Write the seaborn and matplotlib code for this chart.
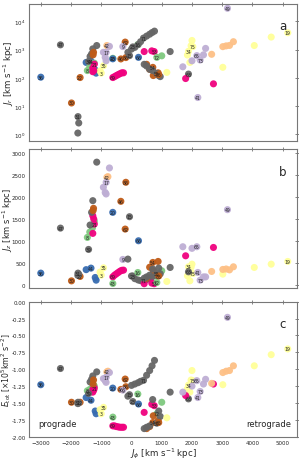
import pandas as pd
import seaborn as sns
import matplotlib.pyplot as plt

# One entry per orbit point. The label is the cluster ID printed on that point ("" = no label).
label = ["36", "47", "30", "22", "31", "", "",
         "44", "", "", "",
         "35", "3", "",
         "8", "", "", "",
         "21", "", "", "",
         "39", "", "", "", "",
         "", "",
         "42", "",
         "17", "", "", "", "",
         "69", "", "", "", "", "", "",
         "43", "20", "46", "62", "86", "9", "15", "", "23", "16", "66",
         "71", "", "", "", "", "", "", "", "",
         "53", "", "",
         "72", "",
         "54", "", "", "", "",
         "55", "", "", "", "", "", "",
         "85", "", "",
         "34", "", "", "", "",
         "75", "63", "", "", "",
         "65", "", "",
         "73", "",
         "41", "49",
         "19", "", "", "",
         "", "", "", "", ""]
colour = ["blue", "grey", "brown", "brown", "grey", "grey", "grey",
          "blue", "blue", "blue", "blue",
          "yellow", "yellow", "yellow",
          "green", "green", "green", "green",
          "pink", "pink", "pink", "pink",
          "grey", "grey", "grey", "grey", "grey",
          "brown", "brown",
          "peach", "peach",
          "lavender", "lavender", "lavender", "lavender", "lavender",
          "pink", "pink", "pink", "pink", "pink", "pink", "pink",
          "green", "blue", "brown", "brown", "brown", "lavender", "grey", "grey", "grey", "green", "blue",
          "grey", "grey", "grey", "grey", "grey", "grey", "grey", "grey", "grey",
          "pink", "pink", "pink",
          "green", "green",
          "brown", "brown", "brown", "brown", "brown",
          "grey", "grey", "grey", "grey", "grey", "grey", "grey",
          "brown", "grey", "yellow",
          "yellow", "yellow", "yellow", "yellow", "yellow",
          "yellow", "grey", "pink", "pink", "lavender",
          "lavender", "lavender", "lavender",
          "lavender", "lavender",
          "lavender", "lavender",
          "yellow", "yellow", "yellow", "yellow",
          "peach", "peach", "peach", "peach", "peach"]
jphi = [-3000, -2350, -1985, -1700, -1770, -1745, -1775,
        -1340, -1500, -1200, -1170,
        -925, -1000, -1040,
        -1460, -1380, -1290, -1230,
        -1230, -1280, -1280, -1250,
        -1420, -1150, -1280, -1320, -1370,
        -1256, -1270,
        -815, -780,
        -838, -930, -870, -840, -730,
        -617, -560, -500, -440, -380, -320, -264,
        -617, -620, -353, -209, -187, -287, -66, -120, 44, 209, 231,
        397, 0, 110, 220, 300, 500, 600, 680, 760,
        750, 670, 419,
        837, 1000,
        705, 880, 720, 600, 500,
        837, 420, 500, 600, 950, 900, 700,
        900, 1278, 1168,
        1884, 2000, 1970, 1850, 1930,
        2028, 1884, 1790, 2710, 1697,
        2160, 2000, 2450,
        2270, 2380,
        2193, 3174,
        5168, 4620, 4060, 3020,
        2650, 3020, 3130, 3240, 3370]
jr = [105, 1470, 12.8, 102, 4.2, 2.5, 1.1,
      390, 350, 188, 146,
      268, 146, 175,
      180, 250, 260, 330,
      305, 164, 220, 180,
      380, 1390, 1060, 700, 570,
      800, 650,
      1390, 1300,
      800, 800, 530, 400, 1300,
      102, 110, 120, 130, 140, 150, 150,
      490, 470, 465, 1840, 520, 1280, 610, 800, 1240, 1500, 530,
      2550, 1040, 1200, 1500, 1900, 3000, 3500, 4000, 4500,
      850, 900, 850,
      530, 600,
      234, 150, 120, 200, 300,
      142, 300, 260, 200, 110, 120, 180,
      130, 850, 155,
      870, 2100, 1370, 640, 350,
      1270, 135, 94, 61, 245,
      610, 400, 1100,
      425, 650,
      20, 29000,
      3950, 2770, 1390, 235,
      680, 1270, 1350, 1400, 1900]
jz = [266, 1290, 90, 190, 266, 240, 215,
      380, 345, 167, 106,
      387, 220, 290,
      1078, 1200, 1300, 1450,
      1382, 1572, 1170, 1500,
      805, 2790, 1914, 1648, 1360,
      1740, 1690,
      2446, 2460,
      2332, 2218, 2100, 2066, 2658,
      182, 220, 250, 280, 310, 330, 334,
      30, 1648, 1899, 1268, 2332, 577, 1549, 585, 200, 280, 1002,
      91, 200, 140, 110, 95, 120, 150, 180, 210,
      25, 40, 25,
      53, 319,
      509, 532, 319, 400, 150,
      250, 150, 180, 220, 250, 380, 360,
      200, 395, 76,
      410, 470, 400, 205, 91,
      258, 296, 660, 850, 866,
      866, 830, 180,
      106, 180,
      281, 1709,
      532, 470, 395, 243,
      304, 350, 360, 340, 410]
etot = [-1.23, -0.99, -1.49, -1.49, -1.49, -1.50, -1.51,
        -1.46, -1.42, -1.62, -1.66,
        -1.565, -1.66, -1.60,
        -1.32, -1.30, -1.27, -1.25,
        -1.28, -1.34, -1.30, -1.31,
        -1.36, -1.04, -1.10, -1.15, -1.19,
        -1.16, -1.22,
        -1.04, -1.03,
        -1.12, -1.14, -1.17, -1.195, -1.05,
        -1.84, -1.84, -1.85, -1.855, -1.86, -1.86, -1.86,
        -1.71, -1.28, -1.30, -1.146, -1.26, -1.31, -1.378, -1.40, -1.48, -1.368, -1.516,
        -1.165, -1.24, -1.22, -1.20, -1.18, -1.09, -1.02, -0.95, -0.87,
        -1.54, -1.52, -1.64,
        -1.66, -1.49,
        -1.79, -1.76, -1.69, -1.85, -1.88,
        -1.80, -1.88, -1.86, -1.84, -1.70, -1.62, -1.45,
        -1.79, -1.34, -1.72,
        -1.235, -1.02, -1.16, -1.29, -1.34,
        -1.17, -1.44, -1.39, -1.22, -1.34,
        -1.17, -1.25, -1.15,
        -1.33, -1.22,
        -1.42, -0.232,
        -0.70, -0.785, -0.95, -1.23,
        -1.21, -1.05, -1.03, -1.02, -0.95]

df = pd.DataFrame({"label": label, "colour": colour, "jphi": jphi,
                   "jr": jr, "jz": jz, "etot": etot})

# matplotlib "Accent" colours
accent = sns.color_palette("Accent", 8)
palette = dict(zip(["green", "lavender", "peach", "yellow", "blue", "pink", "brown", "grey"], accent))

sns.set_style("white")
plt.rcParams["font.family"] = ["DejaVu Sans"]
plt.rcParams["mathtext.fontset"] = "dejavusans"

fig = plt.figure(figsize=(2.99, 4.60), dpi=100)
ax_a = fig.add_axes([0.098, 0.692, 0.894, 0.297])
ax_b = fig.add_axes([0.098, 0.371, 0.894, 0.303], sharex=ax_a)
ax_c = fig.add_axes([0.098, 0.0485, 0.894, 0.2935], sharex=ax_a)

# ylabel anchor is the right edge of the rotated text
panels = [(ax_a, "jr", "$J_r$ [km s$^{-1}$ kpc]", "a", -0.05, 6.2),
          (ax_b, "jz", "$J_z$ [km s$^{-1}$ kpc]", "b", -0.054, 6.0),
          (ax_c, "etot", r"$E_{\rm tot}$ [$\times 10^5$km$^2$ s$^{-2}$]", "c", -0.062, 5.6)]

for ax, col, ylab, letter, lab_x, lab_size in panels:
    sns.scatterplot(data=df, x="jphi", y=col, hue="colour", palette=palette,
                    s=26, linewidth=0, alpha=0.95, legend=False, ax=ax)
    for _, row in df[df["label"] != ""].iterrows():
        ax.text(row["jphi"], row[col], row["label"], fontsize=3.3, color="#222222",
                ha="center", va="center", zorder=5)
    ax.set_ylabel(ylab, fontsize=lab_size)
    ax.yaxis.set_label_coords(lab_x, 0.5)
    ax.set_xlabel("")
    ax.text(0.947, 0.84, letter, transform=ax.transAxes, fontsize=8.5,
            ha="center", va="center")
    ax.tick_params(direction="inout", length=3, width=0.5, labelsize=4.0,
                   top=True, right=True, color="#555555", pad=1.2)
    for sp in ax.spines.values():
        sp.set_color("#777777")
        sp.set_linewidth(0.8)

ax_a.set_xlim(-3380, 5460)
ax_a.set_yscale("log")
ax_a.set_ylim(0.59, 41000)
ax_a.minorticks_off()
ax_a.set_yticks([1, 10, 100, 1000, 10000])
ax_b.set_ylim(-80, 3090)
ax_b.set_yticks([0, 500, 1000, 1500, 2000, 2500, 3000])
ax_c.set_ylim(-2.0, 0.0)
ax_c.set_yticks([-2.0, -1.75, -1.5, -1.25, -1.0, -0.75, -0.5, -0.25, 0.0])
ax_c.set_xticks([-3000, -2000, -1000, 0, 1000, 2000, 3000, 4000, 5000])
ax_c.yaxis.set_major_formatter(plt.FormatStrFormatter("%.2f"))
plt.setp(ax_a.get_xticklabels(), visible=False)
plt.setp(ax_b.get_xticklabels(), visible=False)
ax_c.set_xlabel("$J_\\phi$ [km s$^{-1}$ kpc]", fontsize=6.2)
ax_c.xaxis.set_label_coords(0.5, -0.066)

ax_c.text(0.032, 0.094, "prograde", transform=ax_c.transAxes, fontsize=6,
          ha="left", va="center")
ax_c.text(0.98, 0.094, "retrograde", transform=ax_c.transAxes, fontsize=6,
          ha="right", va="center")

fig.savefig("out.png", dpi=100)
